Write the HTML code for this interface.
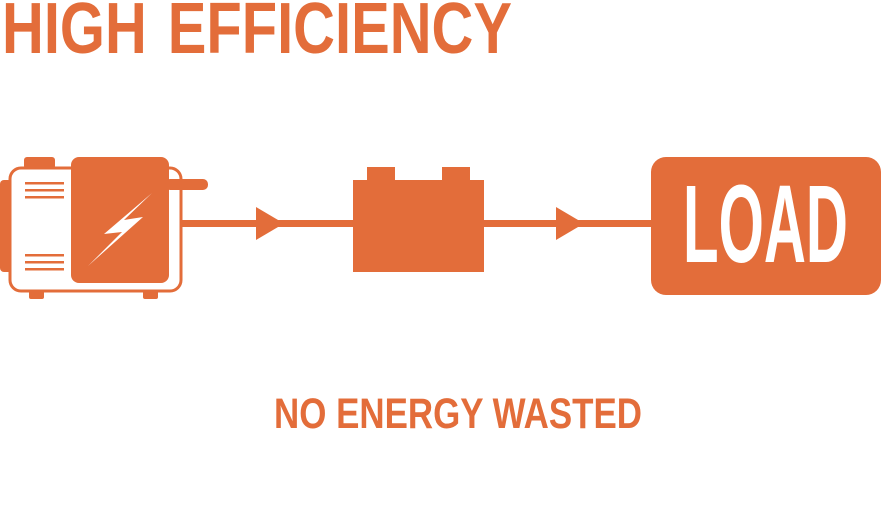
<!DOCTYPE html>
<html><head><style>html,body{margin:0;padding:0;background:#fff;}svg{display:block;}</style></head>
<body>
<svg width="886" height="518" viewBox="0 0 886 518" xmlns="http://www.w3.org/2000/svg">
<g fill="#E36D3A">
<text x="2" y="53" font-family="Liberation Sans, sans-serif" font-weight="bold" font-size="72" textLength="510" lengthAdjust="spacingAndGlyphs" word-spacing="6">HIGH EFFICIENCY</text>
<text x="274" y="428" font-family="Liberation Sans, sans-serif" font-weight="bold" font-size="43" textLength="368" lengthAdjust="spacingAndGlyphs">NO ENERGY WASTED</text>
<!-- generator -->
<rect x="0" y="180" width="14" height="92" rx="6"/>
<rect x="24" y="157" width="31" height="12" rx="3"/>
<rect x="29" y="288" width="15" height="11" rx="2"/>
<rect x="143" y="288" width="15" height="11" rx="2"/>
<rect x="10" y="168" width="171" height="123" rx="11" fill="#fff" stroke="#E36D3A" stroke-width="3"/>
<rect x="0" y="180" width="9" height="92" rx="4"/>
<rect x="71" y="157" width="98" height="126" rx="8"/>
<rect x="165" y="179" width="43" height="11" rx="5"/>
<rect x="25" y="182" width="39" height="2.5"/><rect x="25" y="189" width="39" height="2.5"/><rect x="25" y="196" width="39" height="2.5"/>
<rect x="25" y="254" width="39" height="2.5"/><rect x="25" y="261" width="39" height="2.5"/><rect x="25" y="268" width="39" height="2.5"/>
<polygon points="152,193 104,234 122,232 88,266 143,217 124,220" fill="#fff"/>
<!-- connectors -->
<rect x="181" y="220" width="172" height="7"/>
<polygon points="256,207 284,223.5 256,240"/>
<rect x="484" y="220" width="168" height="7"/>
<polygon points="556,207 584,223.5 556,240"/>
<!-- battery -->
<rect x="353" y="180" width="131" height="92"/>
<rect x="367" y="167" width="28" height="14"/>
<rect x="442" y="167" width="28" height="14"/>
<!-- load -->
<rect x="651" y="157" width="230" height="138" rx="15"/>
<text x="683" y="262" fill="#fff" font-family="Liberation Sans, sans-serif" font-weight="bold" font-size="110" textLength="165" lengthAdjust="spacingAndGlyphs">LOAD</text>
</g>
</svg>
</body></html>
